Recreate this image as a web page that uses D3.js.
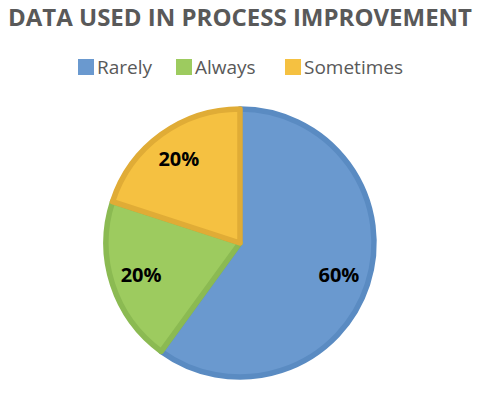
<!DOCTYPE html>
<html>
<head>
<meta charset="utf-8">
<script src="https://cdn.jsdelivr.net/npm/d3@7"></script>
<style>
  body { margin: 0; background: #fff; }
  text { font-family: "Open Sans", "Liberation Sans", sans-serif; }
</style>
</head>
<body>
<div id="chart"></div>
<script>
// chart data
const categories = ["Rarely", "Always", "Sometimes"];
const values = [60, 20, 20];
const fills = ["#6A99CF", "#9DCB5F", "#F5C141"];
const strokes = ["#5A8BC2", "#8BBA52", "#E0AC36"];

const width = 482, height = 396;
const cx = 240, cy = 243, radius = 134;

const svg = d3.select("#chart").append("svg")
  .attr("width", width)
  .attr("height", height);

// title
svg.append("text")
  .attr("x", 240)
  .attr("y", 26)
  .attr("text-anchor", "middle")
  .attr("font-size", "24px")
  .attr("font-weight", "bold")
  .attr("fill", "#595959")
  .text("DATA USED IN PROCESS IMPROVEMENT");

// legend
const legendX = [78, 176, 285];
const legend = svg.append("g");
categories.forEach(function (c, i) {
  legend.append("rect")
    .attr("x", legendX[i])
    .attr("y", 59)
    .attr("width", 16)
    .attr("height", 16)
    .attr("fill", fills[i]);
  legend.append("text")
    .attr("x", legendX[i] + 19)
    .attr("y", 74)
    .attr("font-size", "19px")
    .attr("fill", "#595959")
    .text(c);
});

// pie
const data = categories.map(function (c, i) { return { name: c, value: values[i], i: i }; });
const pie = d3.pie().sort(null).value(function (d) { return d.value; });
const arc = d3.arc().innerRadius(0).outerRadius(radius);
const labelArc = d3.arc().innerRadius(104).outerRadius(104);

const g = svg.append("g")
  .attr("transform", "translate(" + cx + "," + cy + ")");

const slices = g.selectAll("g.slice")
  .data(pie(data))
  .enter()
  .append("g")
  .attr("class", "slice");

slices.append("path")
  .attr("d", arc)
  .attr("fill", function (d) { return fills[d.data.i]; })
  .attr("stroke", function (d) { return strokes[d.data.i]; })
  .attr("stroke-width", 5.5)
  .attr("stroke-linejoin", "round");

slices.append("text")
  .attr("transform", function (d) { return "translate(" + labelArc.centroid(d) + ")"; })
  .attr("dy", "0.35em")
  .attr("text-anchor", "middle")
  .attr("font-size", "20px")
  .attr("font-weight", "bold")
  .attr("fill", "#000")
  .text(function (d) { return d.data.value + "%"; });
</script>
</body>
</html>
